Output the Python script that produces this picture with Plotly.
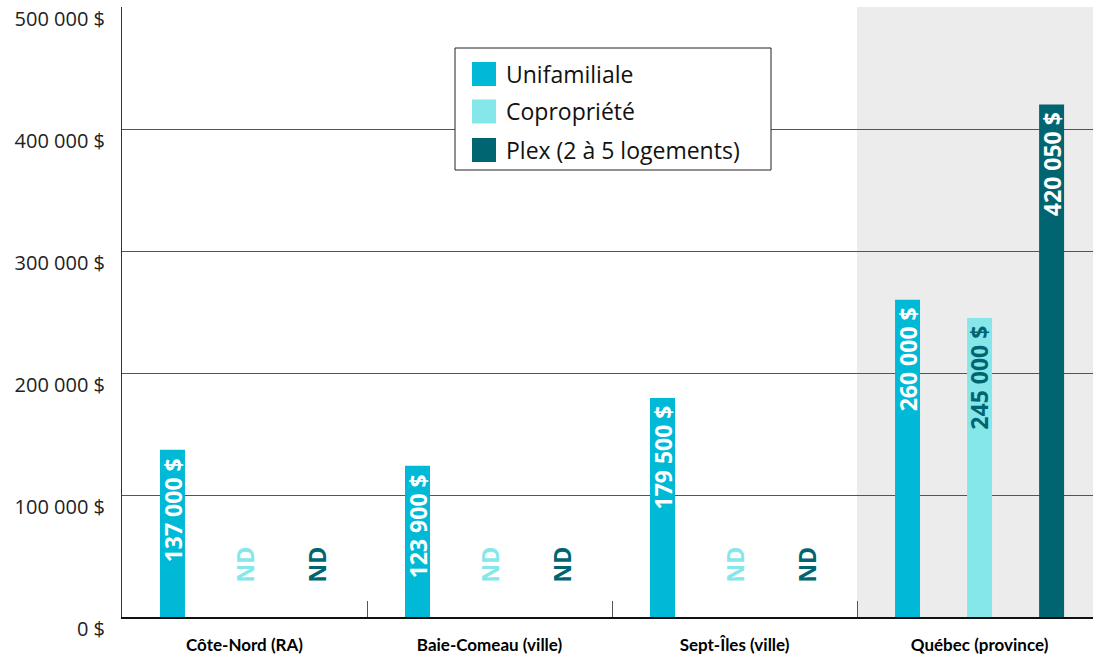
import plotly.graph_objects as go

# Prix médian des propriétés par type de logement
categories = ["Côte-Nord (RA)", "Baie-Comeau (ville)", "Sept-Îles (ville)", "Québec (province)"]
series_names = ["Unifamiliale", "Copropriété", "Plex (2 à 5 logements)"]
unifamiliale = [137000, 123900, 179500, 260000]
copropriete = [None, None, None, 245000]
plex = [None, None, None, 420050]
y_tick_values = [0, 100000, 200000, 300000, 400000, 500000]

series_values = [unifamiliale, copropriete, plex]
colors = ["#00B9D7", "#86E7EA", "#006570"]
label_colors = ["#FFFFFF", "#006570", "#FFFFFF"]

W, H = 1093, 660
ML, MR, MT, MB = 122, 0, 7, 43
PW, PH = W - ML - MR, H - MT - MB

bar_w = 0.102
offsets = [-0.294, 0.0, 0.294]


def fmt(v):
    return f"{v:,}".replace(",", " ") + " $"


def px_x(px):
    return (px - ML) / PW


def px_y(py):
    return (H - MB - py) / PH


fig = go.Figure()
annotations = []
value_font = dict(family="Open Sans", size=23, weight="bold")

for name, vals, col, lcol, off in zip(series_names, series_values, colors, label_colors, offsets):
    fig.add_trace(go.Bar(
        name=name, x=categories, y=vals,
        width=bar_w, offset=off - bar_w / 2,
        marker=dict(color=col, line=dict(width=0)),
        showlegend=False, hoverinfo="skip",
    ))
    for i, v in enumerate(vals):
        if v is None:
            annotations.append(dict(
                x=i + off, y=0, xref="x", yref="y", text="ND",
                textangle=-90, showarrow=False, xanchor="center", yanchor="bottom",
                yshift=32, font=dict(value_font, color=col),
            ))
        else:
            annotations.append(dict(
                x=i + off, y=v, xref="x", yref="y", text=fmt(v),
                textangle=-90, showarrow=False, xanchor="center", yanchor="top",
                yshift=-6, font=dict(value_font, color=lcol),
            ))

shapes = [
    # zone grisée pour la province
    dict(type="rect", xref="x", yref="y", x0=2.5, x1=3.6, y0=0, y1=500000,
         fillcolor="#ECECEC", line=dict(width=0), layer="below"),
    # cadre de la légende
    dict(type="rect", xref="paper", yref="paper",
         x0=px_x(455), x1=px_x(771), y0=px_y(170), y1=px_y(48),
         fillcolor="white", line=dict(color="#222", width=1), layer="above"),
]

row_centers = [74, 111.5, 150]
for name, col, cy in zip(series_names, colors, row_centers):
    shapes.append(dict(type="rect", xref="paper", yref="paper",
                       x0=px_x(472), x1=px_x(496), y0=px_y(cy + 12), y1=px_y(cy - 12),
                       fillcolor=col, line=dict(width=0), layer="above"))
    annotations.append(dict(x=px_x(504), y=px_y(cy), xref="paper", yref="paper",
                            text=name, showarrow=False, xanchor="left", yanchor="middle",
                            font=dict(family="Open Sans", size=23, color="#111")))

fig.update_layout(
    width=W, height=H,
    margin=dict(l=ML, r=MR, t=MT, b=MB, pad=0),
    paper_bgcolor="white", plot_bgcolor="white",
    barmode="overlay",
    shapes=shapes, annotations=annotations,
    showlegend=False,
)

fig.update_xaxes(
    type="category", range=[-0.5, 3.463],
    showgrid=False, zeroline=False,
    showline=True, linecolor="#111", linewidth=1.5,
    ticks="inside", tickson="boundaries", ticklen=16, tickcolor="#555", tickwidth=1,
    tickfont=dict(family="Lato", size=17, color="#000", weight="bold"),
    ticklabelstandoff=12,
)

fig.update_yaxes(
    range=[0, 500000], tickvals=y_tick_values,
    ticktext=[fmt(v) for v in y_tick_values],
    showgrid=True, gridcolor="#555", gridwidth=1,
    zeroline=False, showline=True, linecolor="#333", linewidth=1,
    ticks="", ticklabelstandoff=12, ticklabelshift=12,
    tickfont=dict(family="Open Sans", size=20, color="#222"),
)

fig.write_html("out.html")
